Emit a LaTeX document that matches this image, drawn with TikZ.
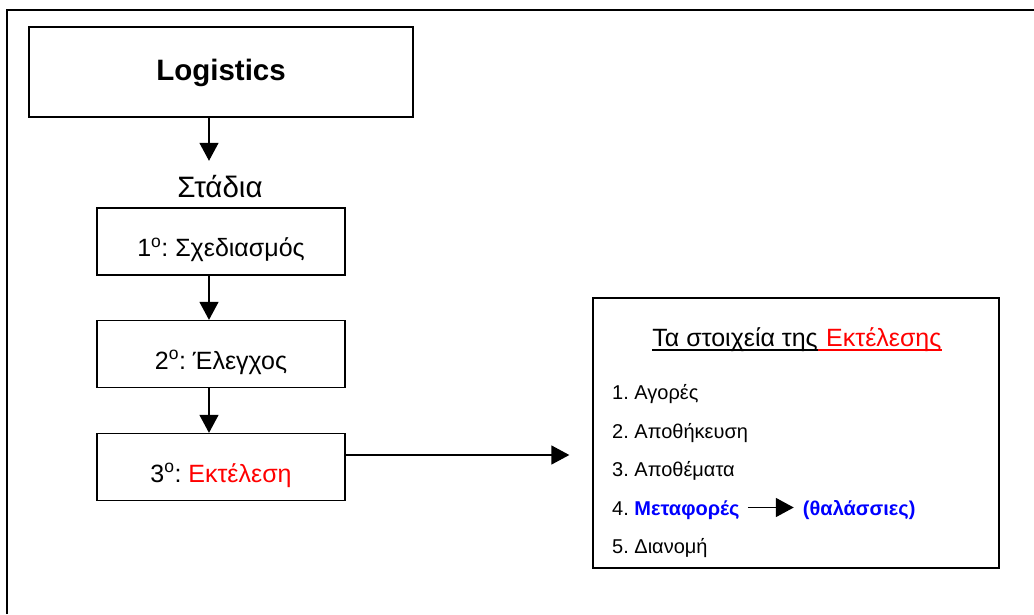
\documentclass[tikz,border=0pt]{standalone}
\usepackage{fontspec}
\setmainfont{Liberation Sans}
\usetikzlibrary{arrows.meta,calc}
\frenchspacing
\begin{document}
\begin{tikzpicture}[x=1pt,y=-1pt,
  frame/.style={draw,line width=1.3pt,inner sep=0pt},
  stagebox/.style={frame,minimum width=248pt,minimum height=67pt,
    text height=33pt,text depth=3pt,font=\fontsize{25}{30}\selectfont},
  arr/.style={line width=1.3pt,-{Triangle[length=18pt,width=19pt]}},
  item/.style={anchor=base west,inner sep=0pt,font=\fontsize{20}{24}\selectfont}]
\useasboundingbox (0,0) rectangle (1034,614);
% outer page frame
\draw[line width=2pt] (6.5,614) -- (6.5,10) -- (1034,10);

% main column
\node[frame,minimum width=384pt,minimum height=90pt,text height=20pt,text depth=4pt,
  font=\fontsize{29.5}{34}\selectfont\bfseries] (logistics) at (221,72) {Logistics};
\node[anchor=base,inner xsep=0pt,inner ysep=14pt,text height=22pt,text depth=6pt,
  font=\fontsize{29.5}{34}\selectfont] (stadia) at (220,197) {Στάδια};
\node[stagebox] (box1) at (221,241.5) {1\textsuperscript{o}: Σχεδιασμός};
\node[stagebox] (box2) at (221,354) {2\textsuperscript{o}: Έλεγχος};
\node[stagebox] (box3) at (221,467) {3\textsuperscript{o}: \textcolor{red}{Εκτέλεση}};

\draw[arr] ([xshift=-12pt]logistics.south) -- ([xshift=-11pt]stadia.north);
\draw[arr] ([xshift=-12pt]box1.south) -- ([xshift=-12pt]box2.north);
\draw[arr] ([xshift=-12pt]box2.south) -- ([xshift=-12pt]box3.north);

% elements of the execution stage
\node[frame,minimum width=406pt,minimum height=270pt] (elements) at (796,433) {};
\path ([yshift=12pt]box3.east) coordinate (h0);
\draw[arr,shorten >=23pt] (h0) -- (h0 -| elements.west);

\node[anchor=base east,inner sep=0pt,font=\fontsize{25}{30}\selectfont] (title1) at (818,346) {Τα στοιχεία της};
\node[anchor=base west,inner sep=0pt,text=red,font=\fontsize{25}{30}\selectfont] (title2) at (826,346) {Εκτέλεσης};
\draw[line width=1.5pt] ([yshift=-4pt]title1.base west) -- ([yshift=-4pt]title1.base east);
\draw[red,line width=1.5pt] ([yshift=-4pt]title1.base east) -- ([yshift=-4pt]title2.base east);

\node[item] (item1) at (612,399) {1. Αγορές};
\node[item] (item2) at (612,438) {2. Αποθήκευση};
\node[item] (item3) at (612,476) {3. Αποθέματα};
\node[item] (item4) at (612,515) {4. \textcolor{blue}{\bfseries Μεταφορές}};
\node[item,text=blue,font=\fontsize{20}{24}\selectfont\bfseries] (sea) at ([xshift=63pt]item4.base east) {(θαλάσσιες)};
\node[item] (item5) at (612,553) {5. Διανομή};
\draw[arr,line width=1.8pt] ([xshift=8pt,yshift=7.5pt]item4.base east) -- ([xshift=-9pt,yshift=7.5pt]sea.base west);
\end{tikzpicture}
\end{document}
